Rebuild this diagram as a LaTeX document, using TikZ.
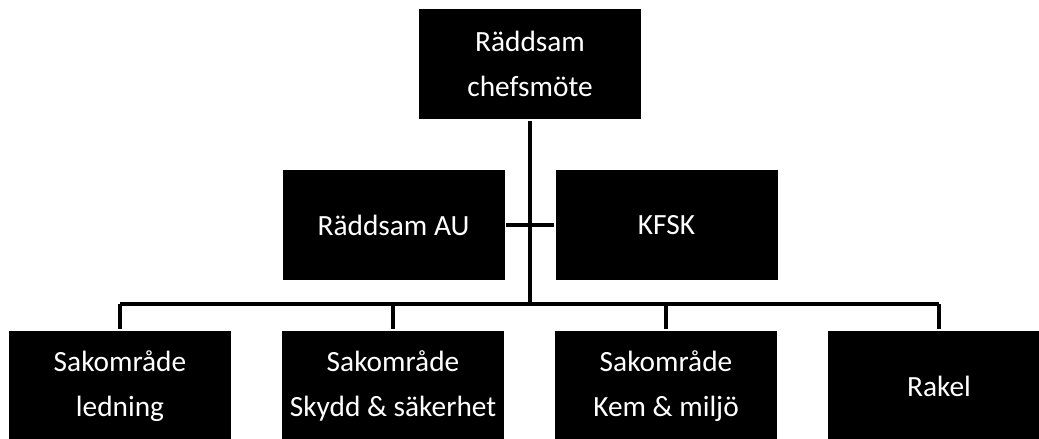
\documentclass[tikz,border=0pt]{standalone}
\usepackage{fontspec}
\setmainfont{Carlito}
\usepackage{tikz}
\usetikzlibrary{arrows}
\begin{document}
\begin{tikzpicture}[node distance=5.46cm]
			\tikzstyle{box} = [fill=black, text=white, minimum width=4.44cm, minimum height=2.2cm, inner sep=0pt, align=center, font=\fontsize{16.7}{25.6}\selectfont]
			\tikzstyle{link} = [draw=black, line width=2pt]
			\useasboundingbox (0,0) rectangle (20.78,8.78);
			\begin{scope}
			\path[link]
			node[box] at (10.6,7.5) (chef) {Räddsam\\chefsmöte}
			node[box] at (7.87,4.28) (au) {Räddsam AU}
			node[box, right of=au] (kfsk) {KFSK}
			node[box] at (2.4,1.06) (ledning) {Sakområde\\ledning}
			node[box, right of=ledning] (skydd) {Sakområde\\Skydd \& säkerhet}
			node[box, right of=skydd] (kem) {Sakområde\\Kem \& miljö}
			node[box, right of=kem] (rakel) {Rakel}
			coordinate (bus) at (10.6,2.7)

			% trunk and the link between AU and KFSK
			(chef) edge (bus)
			(au) edge (kfsk)
			(ledning |- bus) edge (rakel |- bus)

			% drops to the bottom row
			(ledning |- bus) edge (ledning)
			(skydd |- bus) edge (skydd)
			(kem |- bus) edge (kem)
			(rakel |- bus) edge (rakel)
			;
			\end{scope}
\end{tikzpicture}
\end{document}
